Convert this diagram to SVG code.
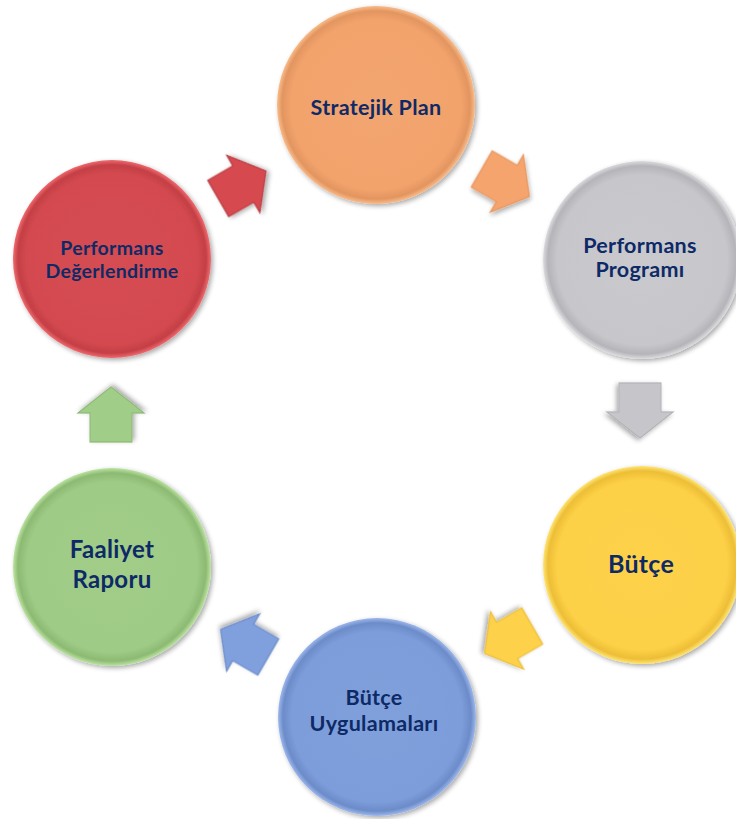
<svg xmlns="http://www.w3.org/2000/svg" width="736" height="819" viewBox="0 0 736 819">
  <style>
    .lbl { font-family: Lato, "Open Sans", "Liberation Sans", sans-serif; font-weight: bold; fill: #0E2A66; text-anchor: middle; letter-spacing: 0.3px; }
    .arr { stroke-width: 1.2; stroke-linejoin: miter; }
  </style>
  <defs>
    <filter id="sh" x="-20%" y="-20%" width="140%" height="140%">
      <feGaussianBlur in="SourceAlpha" stdDeviation="2.5"/>
      <feOffset dx="1.5" dy="2" result="b"/>
      <feComponentTransfer><feFuncA type="linear" slope="0.35"/></feComponentTransfer>
      <feMerge><feMergeNode/><feMergeNode in="SourceGraphic"/></feMerge>
    </filter>
    <radialGradient id="gOr" cx="0.5" cy="0.5" r="0.5">
      <stop offset="0" stop-color="#F3A570"/><stop offset="0.86" stop-color="#F2A36C"/>
      <stop offset="0.95" stop-color="#E39560"/><stop offset="1" stop-color="#F9BC8A"/>
    </radialGradient>
    <radialGradient id="gGy" cx="0.5" cy="0.5" r="0.5">
      <stop offset="0" stop-color="#C9C9CE"/><stop offset="0.86" stop-color="#C6C6CB"/>
      <stop offset="0.95" stop-color="#B4B4B9"/><stop offset="1" stop-color="#DCDCE0"/>
    </radialGradient>
    <radialGradient id="gYe" cx="0.5" cy="0.5" r="0.5">
      <stop offset="0" stop-color="#FDD24A"/><stop offset="0.86" stop-color="#FCD046"/>
      <stop offset="0.95" stop-color="#EDBE36"/><stop offset="1" stop-color="#FFE574"/>
    </radialGradient>
    <radialGradient id="gBl" cx="0.5" cy="0.5" r="0.5">
      <stop offset="0" stop-color="#80A0DC"/><stop offset="0.86" stop-color="#7D9DDA"/>
      <stop offset="0.95" stop-color="#6C8BC9"/><stop offset="1" stop-color="#9DB8EC"/>
    </radialGradient>
    <radialGradient id="gGr" cx="0.5" cy="0.5" r="0.5">
      <stop offset="0" stop-color="#A1CD88"/><stop offset="0.86" stop-color="#9ECB85"/>
      <stop offset="0.95" stop-color="#8CBA73"/><stop offset="1" stop-color="#BDE4A2"/>
    </radialGradient>
    <radialGradient id="gRd" cx="0.5" cy="0.5" r="0.5">
      <stop offset="0" stop-color="#D54D52"/><stop offset="0.86" stop-color="#D44A50"/>
      <stop offset="0.95" stop-color="#C43F45"/><stop offset="1" stop-color="#F06A6E"/>
    </radialGradient>
    <polygon id="arrow" points="-28,-21 1,-21 1,-33 27,0 1,33 1,21 -28,21"/>
  </defs>

  <g id="connectors">
    <use href="#arrow" class="arr" fill="#D64A4F" stroke="#B93C41" filter="url(#sh)" transform="translate(242.5,184.5) rotate(-30)"/>
    <use href="#arrow" class="arr" fill="#F4A46C" stroke="#E8955E" filter="url(#sh)" transform="translate(506,183) rotate(30)"/>
    <use href="#arrow" class="arr" fill="#C6C6CA" stroke="#B2B2B7" filter="url(#sh)" transform="translate(640,411) rotate(90)"/>
    <use href="#arrow" class="arr" fill="#FDD14A" stroke="#EDBD38" filter="url(#sh)" transform="translate(508,640) rotate(150)"/>
    <use href="#arrow" class="arr" fill="#7F9FDD" stroke="#6C8BCB" filter="url(#sh)" transform="translate(244,643) rotate(210)"/>
    <use href="#arrow" class="arr" fill="#A0CD88" stroke="#8DBA74" filter="url(#sh)" transform="translate(111,414) rotate(-90)"/>
  </g>

  <g id="stratejik-plan">
    <circle cx="376" cy="105" r="99" fill="url(#gOr)" filter="url(#sh)"/>
    <text class="lbl" x="376" y="115" font-size="21.5">Stratejik Plan</text>
  </g>

  <g id="performans-programi">
    <circle cx="642" cy="260" r="99" fill="url(#gGy)" filter="url(#sh)"/>
    <text class="lbl" x="640" y="253" font-size="21.5">Performans</text>
    <text class="lbl" x="640" y="277" font-size="21.5">Programı</text>
  </g>

  <g id="butce">
    <circle cx="642" cy="565" r="99" fill="url(#gYe)" filter="url(#sh)"/>
    <text class="lbl" x="641" y="573" font-size="25">Bütçe</text>
  </g>

  <g id="butce-uygulamalari">
    <circle cx="377" cy="717" r="99" fill="url(#gBl)" filter="url(#sh)"/>
    <text class="lbl" x="374" y="705" font-size="21.5">Bütçe</text>
    <text class="lbl" x="374" y="731" font-size="21.5">Uygulamaları</text>
  </g>

  <g id="faaliyet-raporu">
    <circle cx="112" cy="567" r="99" fill="url(#gGr)" filter="url(#sh)"/>
    <text class="lbl" x="112" y="558" font-size="24">Faaliyet</text>
    <text class="lbl" x="112" y="588" font-size="24">Raporu</text>
  </g>

  <g id="performans-degerlendirme">
    <circle cx="112" cy="259" r="99" fill="url(#gRd)" filter="url(#sh)"/>
    <text class="lbl" x="112" y="255" font-size="19.5">Performans</text>
    <text class="lbl" x="112" y="278" font-size="19.5">Değerlendirme</text>
  </g>
</svg>
